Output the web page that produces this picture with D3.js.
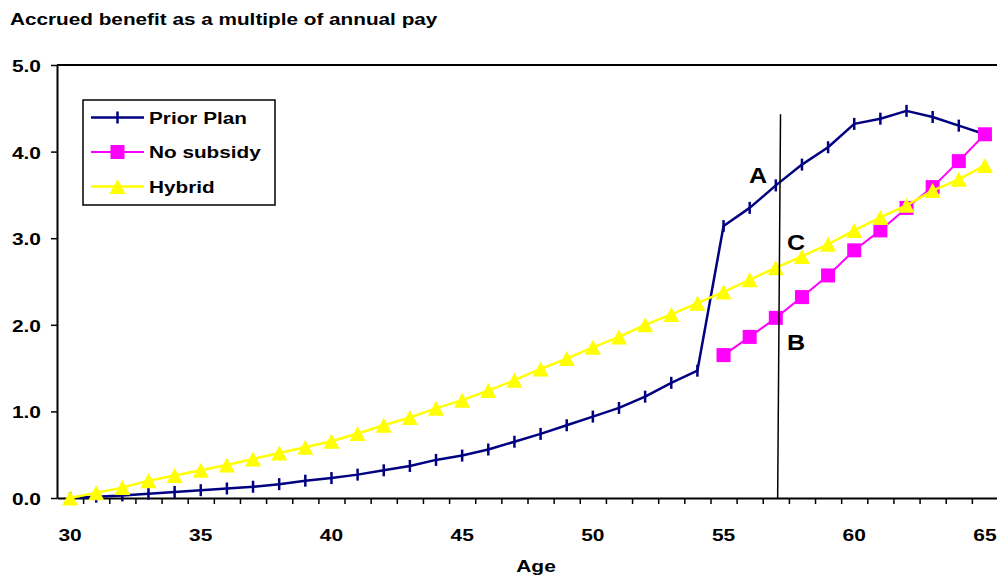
<!DOCTYPE html>
<html>
<head>
<meta charset="utf-8">
<script src="https://cdn.jsdelivr.net/npm/d3@7"></script>
<style>
  html, body { margin: 0; padding: 0; background: #fff; }
  svg { display: block; }
</style>
</head>
<body>
<svg id="chart" width="997" height="580"></svg>
<script>
// Ages along the category axis
const ages = [30, 31, 32, 33, 34, 35, 36, 37, 38, 39, 40, 41, 42, 43, 44, 45, 46, 47,
              48, 49, 50, 51, 52, 53, 54, 55, 56, 57, 58, 59, 60, 61, 62, 63, 64, 65];

// Accrued benefit (multiple of annual pay) per age
const priorPlan = [0.00, 0.015, 0.03, 0.05, 0.07, 0.09, 0.11, 0.13, 0.16, 0.20, 0.23, 0.27,
                   0.32, 0.37, 0.44, 0.49, 0.56, 0.65, 0.74, 0.84, 0.94, 1.04, 1.17, 1.33,
                   1.47, 3.14, 3.35, 3.61, 3.85, 4.05, 4.32, 4.38, 4.47, 4.40, 4.30, 4.20];
const noSubsidy = [null, null, null, null, null, null, null, null, null, null, null, null,
                   null, null, null, null, null, null, null, null, null, null, null, null,
                   null, 1.65, 1.86, 2.08, 2.32, 2.57, 2.86, 3.09, 3.35, 3.59, 3.89, 4.20];
const hybrid = [0.00, 0.06, 0.12, 0.20, 0.26, 0.32, 0.38, 0.45, 0.52, 0.585, 0.655, 0.745,
                0.84, 0.93, 1.035, 1.13, 1.24, 1.36, 1.49, 1.61, 1.74, 1.86, 2.00, 2.12,
                2.25, 2.38, 2.52, 2.66, 2.79, 2.93, 3.09, 3.24, 3.38, 3.55, 3.68, 3.84];

const seriesNames = ["Prior Plan", "No subsidy", "Hybrid"];
const xTickLabels = [30, 35, 40, 45, 50, 55, 60, 65];
const yTickLabels = [0, 1, 2, 3, 4, 5];

// Age-57 comparison line and its point labels
const markerLine = [{age: 57.07, v: 0}, {age: 57.18, v: 4.43}];
const annotations = [
  {text: "A", age: 56.32, v: 3.73},
  {text: "C", age: 57.77, v: 2.96},
  {text: "B", age: 57.77, v: 1.80}
];

const svg = d3.select("#chart");
const FONT = "'Liberation Sans', Arial, Helvetica, sans-serif";

const x = d3.scaleLinear().domain([29.5, 65.5]).range([57, 998]);
const y = d3.scaleLinear().domain([0, 5]).range([498, 65]);

// Stretched bold text helper (the chart's lettering is wide)
function label(g, txt, px, py, size, sx, anchor, dy) {
  return g.append("text")
    .attr("transform", `translate(${px},${py}) scale(${sx},1)`)
    .attr("text-anchor", anchor || "start")
    .attr("dy", dy || 0)
    .style("font-family", FONT)
    .style("font-weight", "bold")
    .style("font-size", size + "px")
    .style("fill", "#000")
    .text(txt);
}

// Title
label(svg, "Accrued benefit as a multiple of annual pay", 10, 25, 17, 1.22, "start");

// Plot frame top edge
svg.append("line")
  .attr("x1", x(29.5)).attr("x2", x(65.5))
  .attr("y1", y(5)).attr("y2", y(5))
  .attr("stroke", "#000").attr("stroke-width", 2);

// X axis: tick marks between categories
const halfTicks = ages.slice(0, -1).map(a => a + 0.5);
const xAxis = svg.append("g")
  .attr("transform", `translate(0,${y(0)})`)
  .call(d3.axisBottom(x).tickValues(halfTicks).tickFormat(() => "").tickSizeInner(6).tickSizeOuter(0));
xAxis.select(".domain").attr("stroke", "#000").attr("stroke-width", 2);
xAxis.selectAll(".tick line").attr("stroke", "#000").attr("stroke-width", 1.5);
xAxis.selectAll(".tick text").remove();

xTickLabels.forEach(a => label(svg, String(a), x(a), y(0) + 43, 16.5, 1.27, "middle"));
label(svg, "Age", 536, 572, 16.5, 1.27, "middle");

// Y axis
const yAxis = svg.append("g")
  .attr("transform", `translate(${x(29.5)},0)`)
  .call(d3.axisLeft(y).tickValues(yTickLabels).tickFormat(() => "").tickSizeInner(6).tickSizeOuter(0));
yAxis.select(".domain").attr("stroke", "#000").attr("stroke-width", 2);
yAxis.selectAll(".tick line").attr("stroke", "#000").attr("stroke-width", 1.5);
yAxis.selectAll(".tick text").remove();

yTickLabels.forEach(v => label(svg, d3.format(".1f")(v), 41, y(v) + 7, 16.5, 1.27, "end"));

// Series
const series = [
  {name: seriesNames[0], values: priorPlan, color: "#000080", width: 2.5, marker: "bar"},
  {name: seriesNames[1], values: noSubsidy, color: "#FF00FF", width: 2, marker: "square"},
  {name: seriesNames[2], values: hybrid, color: "#FFFF00", width: 2.5, marker: "triangle"}
];

function drawMarker(g, type, color, cx, cy) {
  if (type === "bar") {
    g.append("line").attr("x1", cx).attr("x2", cx).attr("y1", cy - 6).attr("y2", cy + 6)
      .attr("stroke", color).attr("stroke-width", 2.5);
  } else if (type === "square") {
    g.append("rect").attr("x", cx - 7).attr("y", cy - 7).attr("width", 14).attr("height", 14)
      .attr("fill", color);
  } else {
    g.append("path").attr("d", `M${cx},${cy - 7.5}L${cx + 8},${cy + 7.5}L${cx - 8},${cy + 7.5}Z`)
      .attr("fill", color);
  }
}

series.forEach(s => {
  const pts = ages.map((a, i) => ({age: a, v: s.values[i]}));
  const line = d3.line().defined(d => d.v !== null).x(d => x(d.age)).y(d => y(d.v));
  const g = svg.append("g");
  g.append("path").attr("d", line(pts)).attr("fill", "none")
    .attr("stroke", s.color).attr("stroke-width", s.width).attr("stroke-linejoin", "round");
  pts.filter(d => d.v !== null).forEach(d => drawMarker(g, s.marker, s.color, x(d.age), y(d.v)));
});

// Comparison line at age 57
svg.append("path")
  .attr("d", d3.line().x(d => x(d.age)).y(d => y(d.v))(markerLine))
  .attr("stroke", "#000").attr("stroke-width", 1.5).attr("fill", "none");

annotations.forEach(a => label(svg, a.text, x(a.age), y(a.v), 22, 1.14, "middle", "0.36em"));

// Legend
const legend = svg.append("g");
legend.append("rect").attr("x", 83).attr("y", 100).attr("width", 192).attr("height", 105)
  .attr("fill", "#fff").attr("stroke", "#000").attr("stroke-width", 1.5);
series.forEach((s, i) => {
  const cy = 117.5 + i * 34.5;
  legend.append("line").attr("x1", 91).attr("x2", 144).attr("y1", cy).attr("y2", cy)
    .attr("stroke", s.color).attr("stroke-width", s.width);
  drawMarker(legend, s.marker, s.color, 117.5, cy);
  label(legend, s.name, 149, cy + 6, 17, 1.22, "start");
});
</script>
</body>
</html>
